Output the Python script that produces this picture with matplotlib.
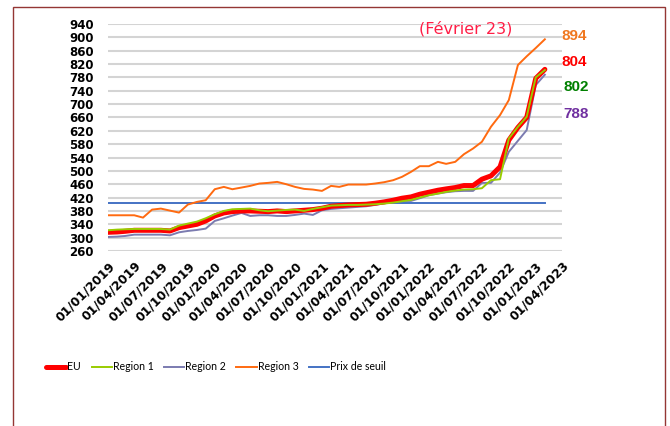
import pandas as pd
import numpy as np
import matplotlib
matplotlib.use("Agg")
import matplotlib.pyplot as plt
import matplotlib.dates as mdates
from matplotlib.patches import Rectangle

# monthly prices, Jan 2019 -> Feb 2023
months = pd.date_range("2019-01-01", "2023-02-01", freq="MS")

eu = [316, 317, 319, 322, 322, 322, 322, 320, 330, 335, 340, 350,
      365, 374, 378, 380, 380, 379, 378, 380, 378, 380, 382, 384,
      388, 394, 396, 398, 399, 400, 403, 407, 412, 418, 422, 430,
      436, 442, 446, 450, 456, 456, 475, 485, 512, 592, 630, 660,
      777, 804]
region1 = [322, 324, 325, 326, 326, 326, 326, 324, 336, 342, 348, 358,
           370, 380, 385, 386, 387, 382, 379, 381, 383, 384, 380, 386,
           391, 396, 397, 398, 398, 399, 400, 402, 405, 409, 413, 420,
           427, 432, 437, 441, 444, 445, 448, 472, 475, 597, 632, 662,
           780, 802]
region2 = [302, 303, 305, 309, 309, 309, 309, 307, 316, 320, 323, 327,
           350, 358, 366, 374, 365, 367, 367, 365, 365, 368, 372, 368,
           382, 386, 388, 390, 392, 394, 398, 403, 406, 410, 410, 418,
           427, 432, 436, 439, 440, 440, 464, 464, 495, 557, 590, 622,
           757, 788]
region3 = [367, 367, 367, 367, 360, 384, 387, 381, 375, 399, 407, 412,
           445, 452, 445, 450, 455, 462, 464, 467, 460, 452, 446, 444,
           440, 455, 452, 459, 459, 459, 462, 466, 472, 482, 497, 514,
           514, 527, 521, 527, 550, 567, 587, 632, 667, 712, 817, 843,
           868, 894]
seuil = 405

end_labels = ["894", "804", "802", "788"]
end_colors = ["#F07820", "#FF0000", "#008000", "#7030A0"]

fig = plt.figure(figsize=(6.70, 4.26), dpi=100)
ax = fig.add_axes([0.161, 0.4108, 0.678, 0.533])

# outer frame of the chart box
fig.patches.append(Rectangle((13 / 670, -0.1), 652 / 670, 1.1 - 7 / 426,
                             transform=fig.transFigure, fill=False,
                             edgecolor="#943634", linewidth=1.0))

ax.plot(months, eu, color="#FF0000", linewidth=3.6, label="EU", zorder=5,
        solid_capstyle="round", solid_joinstyle="round")
ax.plot(months, region1, color="#99CC00", linewidth=1.4, label="Region 1", zorder=6)
ax.plot(months, region2, color="#7B7BB0", linewidth=1.4, label="Region 2", zorder=4)
ax.plot(months, region3, color="#FF6A10", linewidth=1.4, label="Region 3", zorder=3)
ax.plot([months[0], months[-1]], [seuil, seuil], color="#4472C4", linewidth=1.4,
        label="Prix de seuil", zorder=2)

ax.set_ylim(260, 940)
ax.set_yticks(np.arange(260, 941, 40))
ax.set_xlim(pd.Timestamp("2019-01-01"), pd.Timestamp("2023-04-01"))
ax.xaxis.set_major_locator(mdates.MonthLocator(bymonth=[1, 4, 7, 10], bymonthday=1))
ax.xaxis.set_major_formatter(mdates.DateFormatter("%d/%m/%Y"))

ax.grid(axis="y", color="#D4D4D4", linewidth=1.5)
ax.set_axisbelow(True)
for s in ax.spines.values():
    s.set_visible(False)
ax.tick_params(axis="both", length=0)
ax.tick_params(axis="y", pad=10)
ax.tick_params(axis="x", pad=6)

for lab in ax.get_yticklabels():
    lab.set_fontfamily("DejaVu Sans")
    lab.set_fontweight("bold")
    lab.set_fontsize(8.5)
for lab in ax.get_xticklabels():
    lab.set_fontfamily("DejaVu Sans")
    lab.set_fontweight("bold")
    lab.set_fontsize(8.8)
    lab.set_rotation(45)
    lab.set_ha("right")
    lab.set_rotation_mode("anchor")

fig.text(466 / 670, 1 - 29 / 426, "(Février 23)", color="#FF1E46",
         fontsize=11.5, ha="center", va="center", family="DejaVu Sans")

ys = [36, 62, 87, 114]
xs = [561, 561, 563, 563]
for t, c, x, y in zip(end_labels, end_colors, xs, ys):
    fig.text(x / 670, 1 - y / 426, t, color=c, fontsize=11, ha="left",
             va="center", family="Liberation Sans", fontweight="bold")

leg = fig.legend(loc="center", bbox_to_anchor=(216 / 670, 1 - 367 / 426), ncol=5,
                 frameon=False, prop={"family": "Lato", "size": 7.6},
                 handlelength=1.9, handletextpad=0.1, columnspacing=1.0)

fig.savefig("out.png", dpi=100)
